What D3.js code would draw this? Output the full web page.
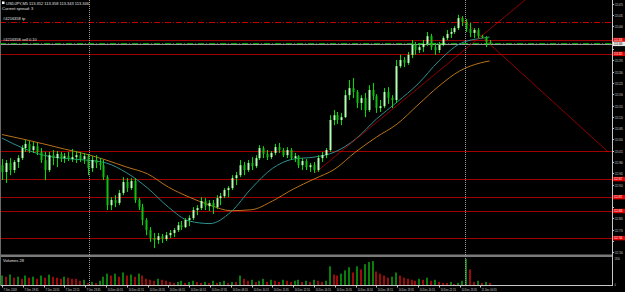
<!DOCTYPE html>
<html><head><meta charset="utf-8">
<script src="https://cdn.jsdelivr.net/npm/d3@7"></script>
<style>html,body{margin:0;padding:0;background:#000;overflow:hidden}svg{display:block}</style>
</head><body>
<svg id="c" width="625" height="292"></svg>
<script>
// ---------- data ----------
const titleText = "USDJPY,M5  113.352 113.358 113.343 113.346";
const spreadText = "Current spread: 3";
const volumeTitle = "Volumes 28";
const barMinutes = 15;
// [open, high, low, close]
const ohlc = [
[112.970,112.989,112.924,112.949],[112.949,112.986,112.915,112.977],[112.977,112.992,112.939,112.955],[112.955,112.986,112.946,112.980],
[112.980,113.001,112.961,112.992],[112.992,113.032,112.986,113.023],[113.023,113.048,113.011,113.036],[113.036,113.045,113.008,113.017],
[113.017,113.042,113.008,113.029],[113.029,113.039,113.001,113.011],[113.011,113.023,112.977,112.986],[112.986,113.011,112.924,112.955],
[112.955,113.011,112.949,113.001],[113.001,113.017,112.970,112.992],[112.992,113.014,112.964,113.005],[113.005,113.011,112.980,112.992],
[112.992,113.008,112.977,112.998],[112.998,113.011,112.983,112.989],[112.989,113.020,112.980,112.995],[112.995,113.014,112.977,113.001],
[113.001,113.011,112.980,112.989],[112.989,113.008,112.974,112.998],[112.998,113.005,112.939,112.961],[112.961,112.998,112.949,112.986],
[112.986,113.001,112.961,112.977],[112.977,112.992,112.955,112.970],[112.970,112.986,112.924,112.933],[112.933,112.939,112.831,112.846],
[112.846,112.871,112.831,112.862],[112.862,112.877,112.840,112.853],[112.853,112.893,112.846,112.884],[112.884,112.933,112.877,112.918],
[112.918,112.930,112.887,112.899],[112.899,112.930,112.893,112.921],[112.921,112.930,112.853,112.862],[112.862,112.868,112.831,112.840],
[112.840,112.850,112.784,112.800],[112.800,112.806,112.753,112.769],[112.769,112.778,112.732,112.744],[112.744,112.760,112.713,112.738],
[112.738,112.760,112.726,112.750],[112.750,112.757,112.729,112.741],[112.741,112.763,112.735,112.753],[112.753,112.769,112.744,112.760],
[112.760,112.775,112.747,112.769],[112.769,112.794,112.763,112.784],[112.784,112.797,112.769,112.778],[112.778,112.806,112.775,112.800],
[112.800,112.815,112.781,112.806],[112.806,112.840,112.800,112.831],[112.831,112.846,112.815,112.837],[112.837,112.871,112.831,112.859],
[112.859,112.868,112.831,112.843],[112.843,112.862,112.828,112.853],[112.853,112.862,112.819,112.840],[112.840,112.877,112.834,112.868],
[112.868,112.884,112.846,112.874],[112.874,112.899,112.868,112.893],[112.893,112.905,112.871,112.899],[112.899,112.939,112.893,112.930],
[112.930,112.949,112.908,112.939],[112.939,112.986,112.933,112.970],[112.970,112.980,112.939,112.955],[112.955,112.986,112.949,112.977],
[112.977,112.995,112.955,112.967],[112.967,113.001,112.961,112.992],[112.992,113.032,112.986,113.023],[113.023,113.029,112.992,113.005],
[113.005,113.017,112.986,112.995],[112.995,113.014,112.989,113.008],[113.008,113.036,113.001,113.026],[113.026,113.039,113.008,113.017],
[113.017,113.023,112.995,113.001],[113.001,113.026,112.992,113.017],[113.017,113.023,112.986,112.992],[112.992,113.008,112.980,112.998],
[112.998,113.001,112.961,112.970],[112.970,112.992,112.955,112.983],[112.983,112.989,112.955,112.964],[112.964,112.977,112.949,112.970],
[112.970,112.980,112.946,112.955],[112.955,113.001,112.949,112.992],[112.992,113.011,112.980,113.001],[113.001,113.023,112.992,113.017],
[113.017,113.125,113.011,113.110],[113.110,113.141,113.094,113.125],[113.125,113.135,113.098,113.110],[113.110,113.132,113.094,113.119],
[113.119,113.203,113.116,113.187],[113.187,113.234,113.172,113.209],[113.209,113.240,113.178,113.197],[113.197,113.203,113.147,113.163],
[113.163,113.187,113.141,113.178],[113.178,113.194,113.119,113.141],[113.141,113.218,113.135,113.203],[113.203,113.225,113.172,113.184],
[113.184,113.190,113.132,113.147],[113.147,113.172,113.135,113.153],[113.153,113.209,113.147,113.197],[113.197,113.212,113.160,113.178],
[113.178,113.187,113.147,113.172],[113.172,113.296,113.163,113.277],[113.277,113.312,113.271,113.296],[113.296,113.305,113.274,113.287],
[113.287,113.321,113.281,113.312],[113.312,113.358,113.302,113.343],[113.343,113.352,113.312,113.327],[113.327,113.349,113.318,113.336],
[113.336,113.358,113.321,113.346],[113.346,113.383,113.339,113.370],[113.370,113.377,113.327,113.336],[113.336,113.349,113.312,113.327],
[113.327,113.352,113.318,113.343],[113.343,113.370,113.339,113.364],[113.364,113.389,113.358,113.377],[113.377,113.395,113.364,113.383],
[113.383,113.401,113.377,113.395],[113.395,113.436,113.389,113.426],[113.426,113.432,113.401,113.414],[113.414,113.423,113.383,113.392],
[113.392,113.411,113.367,113.380],[113.380,113.395,113.364,113.389],[113.389,113.395,113.364,113.370],[113.370,113.374,113.364,113.367],
[113.367,113.370,113.336,113.352],[113.352,113.358,113.343,113.346]
];
const volumes = [490,430,540,380,430,320,490,380,430,320,490,380,540,430,380,320,430,380,320,320,220,270,110,160,110,220,430,590,
490,590,430,650,490,540,430,590,490,320,270,220,320,270,220,160,110,160,220,110,160,220,160,110,160,110,220,110,160,220,110,160,160,
490,320,220,270,160,220,320,160,270,220,160,270,220,160,220,270,160,220,160,270,220,160,220,970,540,490,590,760,920,650,970,810,1080,
1190,1240,700,590,490,380,430,650,490,380,320,270,220,320,270,380,220,270,160,110,110,160,55,110,220,1350,810,160,220,110,160,110];
// moving averages sampled at these minutes from the first bar
const maMinutes = [0,80,160,240,320,400,480,560,640,720,800,880,960,1040,1120,1200,1280,1360,1440,1520,1600,1680,1760,1840,1875];
const maFast = [113.054,113.023,113.001,112.991,112.986,112.977,112.946,112.899,112.840,112.797,112.789,112.825,112.899,112.960,112.989,112.995,113.011,113.051,113.113,113.166,113.222,113.293,113.346,113.363,113.367];
const maSlow = [113.065,113.051,113.036,113.020,113.005,112.986,112.964,112.943,112.902,112.871,112.846,112.829,112.832,112.859,112.896,112.927,112.958,113.011,113.057,113.098,113.157,113.215,113.262,113.287,113.293];
const timeLabels = ["7 Dec 2018","7 Dec 19:35","7 Dec 20:55","7 Dec 22:15","7 Dec 23:35","10 Dec 00:55","10 Dec 02:15","10 Dec 03:35",
"10 Dec 04:55","10 Dec 06:15","10 Dec 07:35","10 Dec 08:55","10 Dec 10:15","10 Dec 11:35","10 Dec 12:55","10 Dec 14:15","10 Dec 15:35",
"10 Dec 16:55","10 Dec 18:15","10 Dec 19:35","10 Dec 20:55","10 Dec 22:15","10 Dec 23:35","11 Dec 00:55"];
const labelStepMinutes = 80;
const priceTicks = [113.470,113.435,113.400,113.365,113.330,113.295,113.260,113.225,113.190,113.155,113.120,113.085,113.050,113.015,112.980,112.945,112.910,112.875,112.840,112.805,112.770,112.735,112.700];
const solidLevels = [113.358,113.315,113.014,112.927,112.871,112.828,112.744];
const labelledLevels = [113.358,113.315,112.927,112.871,112.828,112.744];
const tpLevel = 113.414, orderLevel = 113.350;
const tpText = "#4216358 tp", orderText = "#4216358 sell 0.10";
const trendUp = {t:[1204,2012], p:[112.946,113.482]};
const trendDown = {t:[1762,2331], p:[113.429,113.011]};
const crossMinutes = [335,1781];

// ---------- drawing ----------
const svg = d3.select("#c");
const axisX = 612;
const x = d3.scaleLinear().domain([0,2346]).range([2,axisX]);
const y = d3.scaleLinear().domain([112.687,113.482]).range([256.5,0]);
const yv = d3.scaleLinear().domain([0,1400]).range([285,258]);
const font = "'Liberation Sans', Arial, sans-serif";
const fmt = d3.format(".3f");
const FS = 3.6, SX = 0.66;

svg.append("rect").attr("width",625).attr("height",292).attr("fill","#000");
const defs = svg.append("defs");
defs.append("clipPath").attr("id","mainClip").append("rect").attr("x",0).attr("y",0).attr("width",axisX).attr("height",254);
defs.append("clipPath").attr("id","volClip").append("rect").attr("x",0).attr("y",257).attr("width",axisX).attr("height",28);

const main = svg.append("g").attr("clip-path","url(#mainClip)");

// level lines
main.selectAll("line.lvl").data(solidLevels).join("line")
  .attr("x1",0).attr("x2",axisX).attr("y1",d=>Math.round(y(d))+0.5).attr("y2",d=>Math.round(y(d))+0.5)
  .attr("stroke","#a00000").attr("stroke-width",1);
main.append("line").attr("x1",0).attr("x2",axisX).attr("y1",Math.round(y(tpLevel))+0.5).attr("y2",Math.round(y(tpLevel))+0.5)
  .attr("stroke","#c00000").attr("stroke-dasharray","6,2,1,2");
main.append("line").attr("x1",0).attr("x2",axisX).attr("y1",Math.round(y(orderLevel))+0.5).attr("y2",Math.round(y(orderLevel))+0.5)
  .attr("stroke","#00a000").attr("stroke-dasharray","6,2,1,2");
const lastClose = ohlc[ohlc.length-1][3];
main.append("line").attr("x1",0).attr("x2",axisX).attr("y1",Math.round(y(lastClose))+0.5).attr("y2",Math.round(y(lastClose))+0.5)
  .attr("stroke","#9a9a9a").attr("stroke-width",1);

// moving averages
const lineGen = d3.line().x((d,i)=>x(maMinutes[i])).y(d=>y(d)).curve(d3.curveMonotoneX);
main.append("path").attr("d",lineGen(maSlow)).attr("fill","none").attr("stroke","#b8721a").attr("stroke-width",1);
main.append("path").attr("d",lineGen(maFast)).attr("fill","none").attr("stroke","#2e9090").attr("stroke-width",1);

// trend lines
[trendUp,trendDown].forEach(t=>{
  main.append("line").attr("x1",x(t.t[0])).attr("y1",y(t.p[0])).attr("x2",x(t.t[1])).attr("y2",y(t.p[1]))
    .attr("stroke","#b00000").attr("stroke-width",0.8);
});

// candles
const cg = main.append("g");
ohlc.forEach((d,i)=>{
  const cx = Math.round(x(i*barMinutes))+0.5;
  const up = d[3]>=d[0];
  cg.append("line").attr("x1",cx).attr("x2",cx).attr("y1",y(d[1])).attr("y2",y(d[2])).attr("stroke","#00e000").attr("stroke-width",1);
  const top = y(Math.max(d[0],d[3])), bot = y(Math.min(d[0],d[3]));
  cg.append("rect").attr("x",cx-1).attr("y",top).attr("width",2).attr("height",Math.max(1,bot-top))
    .attr("fill",up?"#b4ffb4":"#10c010");
});

// separators, axis lines
svg.append("rect").attr("x",0).attr("y",254.5).attr("width",axisX).attr("height",2.5).attr("fill","#7a7a7a");
svg.append("line").attr("x1",0).attr("x2",axisX+1).attr("y1",285.5).attr("y2",285.5).attr("stroke","#c8c8c8");
svg.append("line").attr("x1",axisX+0.5).attr("x2",axisX+0.5).attr("y1",0).attr("y2",286).attr("stroke","#c8c8c8");
svg.append("line").attr("x1",0.5).attr("x2",0.5).attr("y1",0).attr("y2",286).attr("stroke","#6a6a6a");

// volumes
const vg = svg.append("g").attr("clip-path","url(#volClip)");
volumes.forEach((v,i)=>{
  const cx = Math.round(x(i*barMinutes));
  const upv = i===0 ? true : v>volumes[i-1];
  vg.append("rect").attr("x",cx-1).attr("y",yv(v)).attr("width",2).attr("height",yv(0)-yv(v))
    .attr("fill",upv?"#0b7d0b":"#9c0a0a");
});

// crosshair verticals
crossMinutes.forEach(m=>{
  svg.append("line").attr("x1",Math.round(x(m))+0.5).attr("x2",Math.round(x(m))+0.5).attr("y1",0).attr("y2",285)
    .attr("stroke","#9a9a9a").attr("stroke-dasharray","1,1");
});

// small narrow text helper (horizontally condensed)
function smallText(parent, tx, ty, str, fill, sx) {
  return parent.append("text").attr("transform",`translate(${tx},${ty}) scale(${sx||SX},1)`)
    .text(str).attr("fill",fill).attr("font-size",FS).attr("font-family",font);
}

// price axis
const ax = svg.append("g");
const boxed = labelledLevels.concat([lastClose]).map(p=>y(p));
priceTicks.forEach(p=>{
  const yy = Math.round(y(p))+0.5;
  ax.append("line").attr("x1",axisX).attr("x2",axisX+2).attr("y1",yy).attr("y2",yy).attr("stroke","#c8c8c8");
  if (boxed.some(b=>Math.abs(b-yy)<5)) return;
  smallText(ax, axisX+2.5, yy+1.2, fmt(p), "#d0d0d0");
});
labelledLevels.forEach(p=>{
  const yy = y(p);
  ax.append("rect").attr("x",axisX+1).attr("y",yy-2.2).attr("width",12).attr("height",4.4).attr("fill","#e00000");
  smallText(ax, axisX+2, yy+1.2, fmt(p), "#fff");
});
ax.append("rect").attr("x",axisX+1).attr("y",y(lastClose)-2.2).attr("width",12).attr("height",4.4).attr("fill","#e8e8e8");
smallText(ax, axisX+2, y(lastClose)+1.2, fmt(lastClose), "#000");
// volume axis
smallText(ax, axisX+2.5, yv(d3.max(volumes))+1.5, String(d3.max(volumes)), "#d0d0d0");
smallText(ax, axisX+2.5, yv(0)+0.5, "0", "#d0d0d0");

// time axis
timeLabels.forEach((t,k)=>{
  const xx = Math.round(x(k*labelStepMinutes))+0.5;
  svg.append("line").attr("x1",xx).attr("x2",xx).attr("y1",285).attr("y2",287.5).attr("stroke","#c8c8c8");
  smallText(svg, xx+1, 290.5, t, "#d0d0d0", 0.72);
});

// texts
svg.append("rect").attr("x",2).attr("y",1.5).attr("width",2.5).attr("height",2.5).attr("fill","#fff");
svg.append("text").attr("x",6).attr("y",4.5).text(titleText).attr("fill","#e0e0e0").attr("font-size",4).attr("font-family",font);
svg.append("text").attr("x",2).attr("y",9.5).text(spreadText).attr("fill","#e0e0e0").attr("font-size",4).attr("font-family",font);
svg.append("text").attr("x",3).attr("y",y(tpLevel)-1.5).text(tpText).attr("fill","#e0e0e0").attr("font-size",4).attr("font-family",font);
svg.append("text").attr("x",3).attr("y",y(orderLevel)-1.5).text(orderText).attr("fill","#e0e0e0").attr("font-size",4).attr("font-family",font);
svg.append("text").attr("x",3).attr("y",261.5).text(volumeTitle).attr("fill","#e0e0e0").attr("font-size",4).attr("font-family",font);
</script>
</body></html>
